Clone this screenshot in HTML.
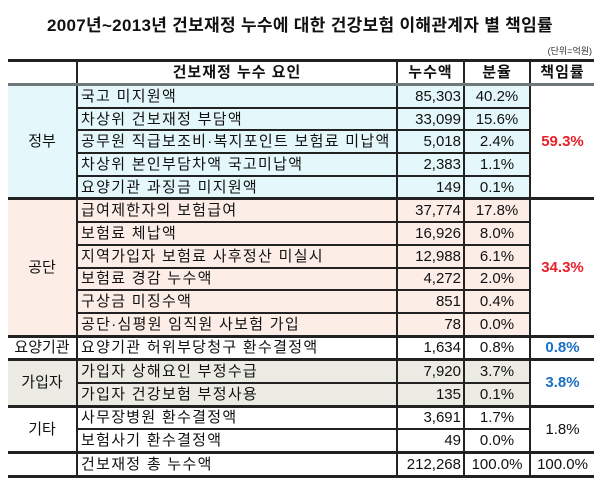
<!DOCTYPE html>
<html><head><meta charset="utf-8"><style>
body{margin:0;width:600px;height:486px;background:#fff;font-family:"Liberation Sans","Noto Sans CJK KR",sans-serif;position:relative;overflow:hidden}
.title{position:absolute;left:0;width:600px;top:11px;text-align:center;font-size:17px;font-weight:bold;color:#111;letter-spacing:0.3px}
.unit{position:absolute;right:8px;top:44px;font-size:9px;color:#333}
table{position:absolute;left:8px;top:59px;border-collapse:collapse;table-layout:fixed;font-size:15px;color:#111}
td{padding:0;height:20.7px;border:2px solid #222;white-space:nowrap;overflow:hidden;line-height:19px}
.hd td{height:21px;font-weight:bold;text-align:center;border-top:3px solid #222;border-bottom:3px solid #6f7878;letter-spacing:1px}
.l{padding-left:3px;letter-spacing:1.3px}
.n{text-align:right;padding-right:2px}
.c{text-align:center}
.g1{background:#e4f8fb}.g2{background:#fdede7}.g4{background:#ecebe3}
.w{background:#fff}
.sep td{border-top:3px solid #222}
.red{color:#e8202a;font-weight:bold}
.blue{color:#1b6fc4;font-weight:bold}
</style></head><body>
<div class="title">2007년~2013년 건보재정 누수에 대한 건강보험 이해관계자 별 책임률</div>
<div class="unit">(단위=억원)</div>
<table>
<colgroup><col style="width:69px"><col style="width:320px"><col style="width:67px"><col style="width:66px"><col style="width:64px"></colgroup>
<tr class="hd"><td style="border-left:none"></td><td>건보재정 누수 요인</td><td>누수액</td><td>분율</td><td style="border-right:none">책임률</td></tr>
<tr class="g1"><td rowspan="5" class="c" style="border-left:none">정부</td><td class="l">국고 미지원액</td><td class="n">85,303</td><td class="c">40.2%</td><td rowspan="5" class="c w red" style="border-right:none">59.3%</td></tr>
<tr class="g1"><td class="l">차상위 건보재정 부담액</td><td class="n">33,099</td><td class="c">15.6%</td></tr>
<tr class="g1"><td class="l">공무원 직급보조비·복지포인트 보험료 미납액</td><td class="n">5,018</td><td class="c">2.4%</td></tr>
<tr class="g1"><td class="l">차상위 본인부담차액 국고미납액</td><td class="n">2,383</td><td class="c">1.1%</td></tr>
<tr class="g1"><td class="l">요양기관 과징금 미지원액</td><td class="n">149</td><td class="c">0.1%</td></tr>
<tr class="g2 sep"><td rowspan="6" class="c" style="border-left:none">공단</td><td class="l">급여제한자의 보험급여</td><td class="n">37,774</td><td class="c">17.8%</td><td rowspan="6" class="c w red" style="border-right:none">34.3%</td></tr>
<tr class="g2"><td class="l">보험료 체납액</td><td class="n">16,926</td><td class="c">8.0%</td></tr>
<tr class="g2"><td class="l">지역가입자 보험료 사후정산 미실시</td><td class="n">12,988</td><td class="c">6.1%</td></tr>
<tr class="g2"><td class="l">보험료 경감 누수액</td><td class="n">4,272</td><td class="c">2.0%</td></tr>
<tr class="g2"><td class="l">구상금 미징수액</td><td class="n">851</td><td class="c">0.4%</td></tr>
<tr class="g2"><td class="l">공단·심평원 임직원 사보험 가입</td><td class="n">78</td><td class="c">0.0%</td></tr>
<tr class="sep"><td class="c" style="border-left:none">요양기관</td><td class="l">요양기관 허위부당청구 환수결정액</td><td class="n">1,634</td><td class="c">0.8%</td><td class="c blue" style="border-right:none">0.8%</td></tr>
<tr class="g4 sep"><td rowspan="2" class="c" style="border-left:none">가입자</td><td class="l">가입자 상해요인 부정수급</td><td class="n">7,920</td><td class="c">3.7%</td><td rowspan="2" class="c w blue" style="border-right:none">3.8%</td></tr>
<tr class="g4"><td class="l">가입자 건강보험 부정사용</td><td class="n">135</td><td class="c">0.1%</td></tr>
<tr class="sep"><td rowspan="2" class="c" style="border-left:none">기타</td><td class="l">사무장병원 환수결정액</td><td class="n">3,691</td><td class="c">1.7%</td><td rowspan="2" class="c" style="border-right:none">1.8%</td></tr>
<tr><td class="l">보험사기 환수결정액</td><td class="n">49</td><td class="c">0.0%</td></tr>
<tr class="sep"><td style="border-left:none;border-bottom:3px solid #222"></td><td class="l" style="border-bottom:3px solid #222">건보재정 총 누수액</td><td class="n" style="border-bottom:3px solid #222">212,268</td><td class="c" style="border-bottom:3px solid #222">100.0%</td><td class="c" style="border-right:none;border-bottom:3px solid #222">100.0%</td></tr>
</table>
</body></html>
